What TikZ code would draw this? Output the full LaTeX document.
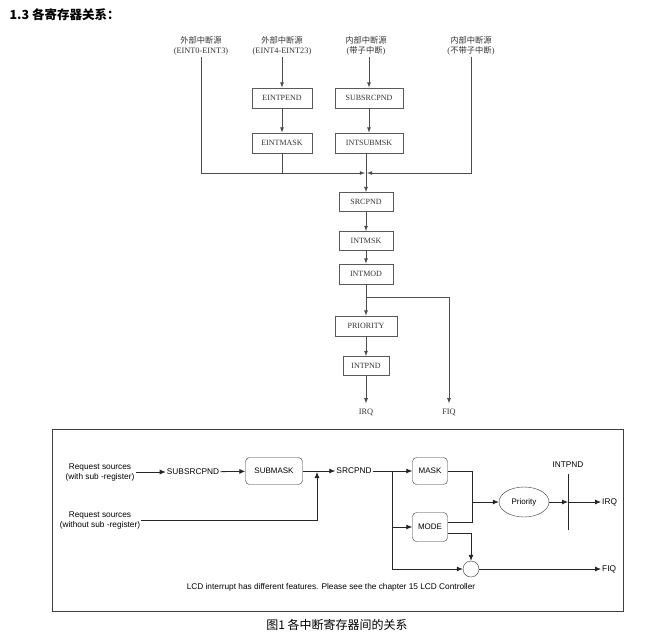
\documentclass[tikz,border=0pt]{standalone}
\usepackage{fontspec}
\setmainfont{Liberation Serif}
\newfontfamily\cjk{Noto Sans CJK SC}
\newfontfamily\arial{Liberation Sans}
\usepackage{tikz}
\usetikzlibrary{positioning}
\usetikzlibrary{shapes,shapes.geometric,arrows,arrows.meta,fit,calc}

\tikzset{
  reg/.style={draw=black!65, thick, inner sep=0pt, minimum height=20pt,
    font=\fontsize{8}{9}\selectfont, text=black!80},
  srclabel/.style={align=center, inner sep=1pt, font=\fontsize{8.3}{10}\selectfont, text=black!80},
  blk/.style={draw=black!80, rounded corners=4pt, inner sep=0pt, minimum height=27pt,
    font=\arial\fontsize{8}{9}\selectfont},
  txt/.style={inner sep=1pt, align=center, font=\arial\fontsize{8.3}{10}\selectfont},
}

\begin{document}
\begin{tikzpicture}[x=1pt,y=-1pt,node distance=40pt,on grid,>=latex]
  \useasboundingbox (0,0) rectangle (663,642);

  \node[anchor=west, font=\cjk\bfseries\fontsize{12.5}{13}\selectfont] (title) at (6,15) {1.3 各寄存器关系：};

  % sources
  \node[srclabel] (src1) at (201,46) {{\cjk 外部中断源}\\(EINT0-EINT3)};
  \node[srclabel] (src2) at (282,46) {{\cjk 外部中断源}\\(EINT4-EINT23)};
  \node[srclabel] (src3) at (366,46) {{\cjk 内部中断源}\\({\cjk 带子中断})};
  \node[srclabel] (src4) at (471,46) {{\cjk 内部中断源}\\({\cjk 不带子中断})};

  \node[reg, minimum width=60pt] (eintpend) at (282,98) {EINTPEND};
  \node[reg, minimum width=60pt] (eintmask) [below=45pt of eintpend] {EINTMASK};
  \node[reg, minimum width=68pt] (subsrcpnd) at (369,98) {SUBSRCPND};
  \node[reg, minimum width=68pt] (intsubmsk) [below=45pt of subsrcpnd] {INTSUBMSK};

  \coordinate (join) at (366,173);

  \node[reg, minimum width=54pt, minimum height=19pt] (srcpnd) at (366,202) {SRCPND};
  \node[reg, minimum width=54pt, minimum height=19pt] (intmsk) [below=39pt of srcpnd] {INTMSK};
  \node[reg, minimum width=54pt] (intmod) [below=33pt of intmsk] {INTMOD};
  \node[reg, minimum width=62pt] (priority) [below=52pt of intmod] {PRIORITY};
  \node[reg, minimum width=46pt, minimum height=19pt] (intpnd) [below=40pt of priority] {INTPND};

  \node[srclabel] (irq) at (366,412) {IRQ};
  \node[srclabel] (fiq) at (449,412) {FIQ};
  \coordinate (fork) at (366,297);

  \begin{scope}[draw=black!70, thick]
  \draw[->] (src1) |- ([xshift=-1pt]join);
  \draw[->] (src4) |- ([xshift=1pt]join);
  \draw (eintmask) -- (eintmask |- join);
  \draw[->] (src2) -- (eintpend);
  \draw[->] (src3.south -| subsrcpnd) -- (subsrcpnd);
  \draw[->] (eintpend) -- (eintmask);
  \draw[->] (subsrcpnd) -- (intsubmsk);
  \draw (intsubmsk.south -| join) -- (join);
  \draw[->] (join) -- (srcpnd);
  \draw[->] (srcpnd) -- (intmsk);
  \draw[->] (intmsk) -- (intmod);
  \draw[->] (intmod) -- (priority);
  \draw[->] (priority) -- (intpnd);
  \draw[->] (intpnd) -- ([yshift=4pt]irq.north);
  \draw[->] (fork) -| ([yshift=4pt]fiq.north);
  \end{scope}

  % register block diagram
  \draw[black!75, thick] (52,429) rectangle (623,611);

  \node[txt] (req1) at (100,472) {Request sources\\(with sub -register)};
  \node[txt] (req2) at (100,520) {Request sources\\(without sub -register)};
  \node[txt] (subsrc) at (193,472) {SUBSRCPND};
  \node[blk, minimum width=57pt] (submask) at (274,471) {SUBMASK};
  \node[txt] (srcpnd2) at (354,471) {SRCPND};
  \node[blk, minimum width=35pt] (mask) at (430,471) {MASK};
  \node[blk, minimum width=35pt, minimum height=29pt] (mode) at (430,527) {MODE};
  \node[ellipse, draw=black!80, minimum width=50pt, minimum height=30pt, inner sep=0pt,
    font=\arial\fontsize{8}{9}\selectfont] (prio) at (524,502) {Priority};
  \node[circle, draw=black!80, minimum size=16pt, inner sep=0pt] (gate) at (471,569) {};
  \node[txt] (pndlabel) at (568,465) {INTPND};
  \coordinate (bartop) at (568,474);
  \coordinate (barbot) at (568,530);
  \coordinate (barmid) at (568,502);
  \node[txt, anchor=west] (irq2) at (601,502) {IRQ};
  \node[txt, anchor=west] (fiq2) at (601,569) {FIQ};
  \node[txt] (note) at (331,587) {LCD interrupt has different features. Please see the chapter 15 LCD Controller};

  \coordinate (merge) at (317,472);
  \coordinate (split) at (392,471);
  \coordinate (merge2) at (472,502);

  \begin{scope}[black!85, thick, -{Latex[length=6pt,width=5pt]}]
  \draw (req1) -- (subsrc);
  \draw (subsrc) -- (submask);
  \draw (submask) -- (srcpnd2);
  \draw (req2) -| (merge);
  \draw (srcpnd2) -- (mask);
  \draw (split) |- (mode);
  \draw (split) |- (gate);
  \draw[-] (mask) -| (merge2);
  \draw[-] ([yshift=5pt]mode.east) -| (merge2);
  \draw (merge2) -- (prio);
  \draw ([yshift=-6pt]mode.east) -| (gate);
  \draw (prio) -- (barmid);
  \draw (barmid) -- (irq2);
  \draw (gate) -- (fiq2);
  \draw[-] (bartop) -- (barbot);
  \end{scope}

  \node[font=\cjk\fontsize{12}{13}\selectfont] (caption) at (337,625) {图1 各中断寄存器间的关系};
\end{tikzpicture}
\end{document}
